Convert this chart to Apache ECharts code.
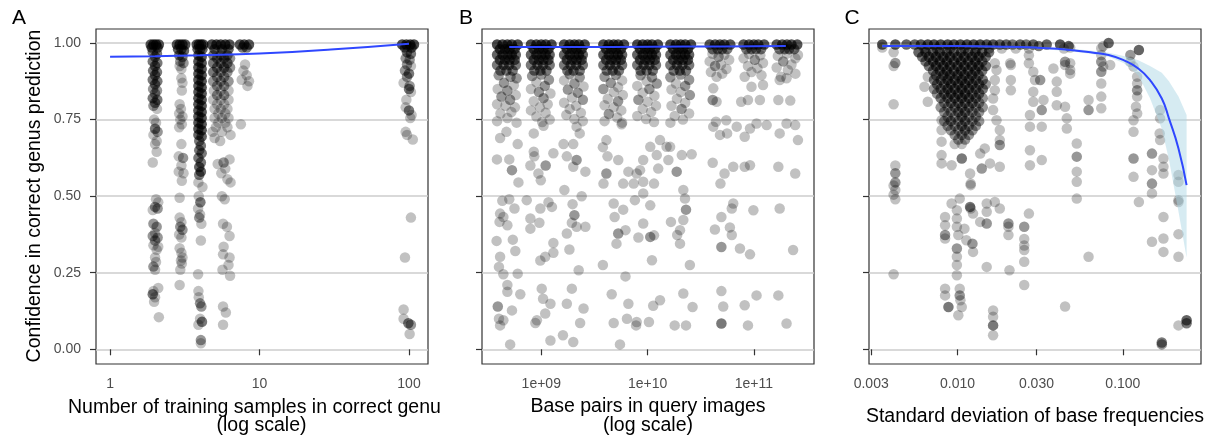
<!DOCTYPE html>
<html>
<head>
<meta charset="utf-8">
<script src="https://cdn.jsdelivr.net/npm/echarts@6/dist/echarts.min.js"></script>
<style>
html, body { margin: 0; padding: 0; background: #fff; }
#chart { width: 1219px; height: 442px; }
</style>
</head>
<body>
<div id="chart"></div>
<script>
// tick values
const yTicks = [0, 0.25, 0.5, 0.75, 1];
const ticksA = [1, 10, 100];
const ticksB = [1e9, 1e10, 1e11];
const ticksC = [0.003, 0.01, 0.03, 0.1];

// points: [x, confidence, n] -- n = how many observations sit on top of each other there
const pointsA = [
  // 2 samples
  [1.87,0.995,5],[1.95,0.995,6],[2.03,0.995,6],[2.12,0.995,5],[1.9,0.985,4],[2.08,0.985,4],
  [1.93,0.97,3],[2.06,0.965,3],[2.0,0.955,3],[1.93,0.94,3],[2.07,0.935,3],[2.0,0.925,3],[1.94,0.91,3],[2.06,0.905,3],
  [2.0,0.895,3],[1.93,0.88,3],[2.07,0.875,3],[2.0,0.865,3],[1.94,0.85,2],[2.06,0.845,2],[2.0,0.835,2],[1.93,0.82,3],
  [2.07,0.815,3],[2.0,0.805,3],[1.95,0.795,2],[2.06,0.785,1],
  [1.97,0.75,1],[2.03,0.74,1],[2.0,0.72,3],[2.08,0.71,2],[1.95,0.7,1],[2.05,0.68,1],[2.0,0.67,1],[2.05,0.645,1],[1.93,0.61,1],
  [2.03,0.49,1],[2.1,0.48,1],[2.0,0.465,2],[1.93,0.455,1],[2.08,0.46,2],[1.95,0.41,2],[2.05,0.4,2],[2.0,0.38,1],
  [1.93,0.37,2],[2.08,0.365,2],[2.0,0.355,2],[1.95,0.34,1],[2.1,0.335,1],[2.05,0.325,1],[2.0,0.3,1],[2.03,0.285,1],
  [1.95,0.27,2],[2.0,0.26,1],[2.1,0.2,1],[1.95,0.19,1],[1.93,0.18,3],[2.0,0.17,1],[1.97,0.155,1],[2.12,0.105,1],
  // 3 samples
  [2.8,0.995,5],[2.92,0.995,6],[3.05,0.995,6],[3.18,0.995,5],[2.85,0.98,4],[3.0,0.98,4],[3.12,0.975,4],[2.9,0.96,3],
  [3.05,0.955,3],[2.95,0.94,2],[3.1,0.935,2],[2.92,0.925,1],[3.0,0.915,1],
  [3.0,0.885,1],[3.05,0.87,1],[3.02,0.845,1],[2.92,0.8,1],[2.98,0.785,1],[2.9,0.77,1],[3.05,0.76,1],[2.95,0.75,1],
  [3.02,0.735,1],[2.9,0.725,1],[3.0,0.67,1],[2.88,0.63,1],[3.08,0.625,2],[3.0,0.6,1],[2.88,0.58,1],[3.1,0.575,1],
  [3.02,0.55,1],[2.92,0.495,1],[2.92,0.43,1],[3.0,0.415,1],[2.95,0.4,2],[3.05,0.39,2],[2.9,0.375,1],[3.0,0.365,1],
  [2.92,0.33,1],[3.0,0.315,1],[3.05,0.3,1],[2.98,0.29,1],[3.02,0.28,1],[2.95,0.26,1],[2.92,0.21,1],
  // 4 samples
  [3.8,0.995,5],[3.93,0.995,6],[4.07,0.995,6],[4.2,0.995,5],[3.85,0.98,4],[4.0,0.98,4],[4.15,0.98,4],
  [3.9,0.96,5],[4.1,0.955,5],[3.9,0.94,5],[4.1,0.935,5],[3.9,0.92,5],[4.1,0.915,5],[3.9,0.9,5],[4.1,0.895,5],
  [3.9,0.88,5],[4.1,0.875,5],[3.9,0.86,5],[4.1,0.855,5],[3.9,0.84,5],[4.1,0.835,5],[3.9,0.82,5],[4.1,0.815,5],
  [3.9,0.8,5],[4.1,0.795,5],[3.9,0.78,5],[4.1,0.775,5],[3.9,0.76,5],[4.1,0.755,5],[3.9,0.74,5],[4.1,0.735,5],
  [3.9,0.72,5],[4.1,0.715,5],[3.9,0.7,4],[4.1,0.695,4],[3.95,0.68,3],[4.05,0.665,3],[3.95,0.65,3],[4.1,0.64,3],
  [3.9,0.625,3],[4.05,0.61,3],[3.95,0.595,4],[4.05,0.58,4],[3.95,0.57,3],
  [3.9,0.545,1],[4.15,0.53,1],[3.92,0.5,1],[4.02,0.48,3],[3.88,0.46,1],[4.0,0.44,1],[3.95,0.43,2],[4.08,0.41,1],
  [4.05,0.355,1],[3.88,0.245,1],[3.9,0.19,1],[3.92,0.17,1],[4.0,0.15,2],[4.08,0.14,2],[4.0,0.1,1],[4.12,0.09,3],
  [3.9,0.08,1],[4.05,0.03,2],[4.05,0.02,1],
  // 5-6 samples
  [4.8,0.995,6],[5.15,0.995,6],[5.5,0.995,6],[5.9,0.995,6],[6.3,0.995,5],[5.0,0.98,4],[5.6,0.98,4],[6.2,0.98,4],
  [4.9,0.96,3],[5.5,0.96,3],[6.1,0.96,3],[5.2,0.95,3],[5.8,0.95,3],[6.35,0.95,2],[4.9,0.935,3],[5.5,0.935,3],[6.1,0.935,3],
  [5.2,0.92,3],[5.8,0.92,3],[6.35,0.92,2],[4.9,0.905,3],[5.5,0.905,2],[6.1,0.905,2],[5.2,0.89,2],[5.8,0.89,2],
  [4.9,0.875,2],[5.5,0.875,2],[6.2,0.875,2],[5.2,0.86,2],[5.8,0.86,2],[4.95,0.845,1],[5.5,0.845,1],[6.2,0.845,1],
  [5.2,0.83,2],[5.8,0.83,2],[4.9,0.815,1],[5.5,0.815,1],[6.2,0.815,1],[5.2,0.8,1],[5.8,0.8,1],[5.0,0.785,1],
  [5.5,0.785,1],[6.1,0.785,1],[5.3,0.77,1],[5.9,0.77,1],[5.0,0.755,1],[5.6,0.755,1],[6.2,0.755,1],[5.3,0.74,1],
  [5.9,0.74,1],[5.1,0.725,1],[6.1,0.725,1],[4.85,0.71,1],[5.6,0.71,1],[6.4,0.7,1],[5.0,0.69,1],[5.45,0.68,1],
  [6.3,0.62,1],[5.75,0.61,2],[5.25,0.605,1],[5.9,0.59,1],[5.55,0.575,1],[6.1,0.555,1],[6.4,0.545,1],[5.6,0.5,1],
  [5.85,0.49,1],[5.7,0.41,1],[6.05,0.4,1],[6.3,0.37,1],[5.75,0.335,1],[5.7,0.31,1],[6.3,0.3,1],[6.2,0.275,1],
  [5.65,0.26,1],[6.35,0.24,1],[5.7,0.14,1],[5.95,0.12,1],[5.7,0.08,1],
  // 8 samples
  [7.4,0.995,5],[7.9,0.995,5],[8.5,0.995,5],[7.7,0.985,3],[8.2,0.985,3],[8.0,0.93,1],[7.8,0.91,1],[8.2,0.895,1],
  [7.6,0.88,1],[8.5,0.875,1],[8.3,0.86,1],[7.5,0.735,1],
  // 100 samples
  [90,0.995,6],[96,0.995,6],[102,0.995,6],[108,0.995,6],[94,0.985,4],[104,0.985,4],[97,0.97,3],[103,0.965,3],
  [95,0.95,2],[101,0.945,2],[97,0.93,2],[103,0.925,1],[94,0.91,2],[100,0.9,3],[97,0.89,2],[92,0.87,1],[101,0.86,2],
  [100,0.85,3],[103,0.84,1],[96,0.815,1],[95,0.79,1],[100,0.78,3],[104,0.765,1],[102,0.755,1],[95,0.71,1],[97,0.7,1],
  [106,0.685,1],[103,0.43,1],[94,0.3,1],[92,0.13,1],[92,0.1,1],[99,0.085,3],[103,0.08,2],[101,0.05,1]
];

const pointsB = [
  // ~5e8
  [3.84e8,0.995,6],[4.32e8,0.995,6],[4.8e8,0.995,6],[5.28e8,0.995,6],[6.0e8,0.995,6],
  [4.08e8,0.98,5],[4.56e8,0.98,5],[5.04e8,0.98,5],[5.62e8,0.98,5],
  [3.84e8,0.962,4],[4.32e8,0.962,4],[4.8e8,0.962,4],[5.28e8,0.962,4],[5.76e8,0.962,4],
  [4.08e8,0.945,4],[4.56e8,0.945,4],[5.04e8,0.945,4],[5.62e8,0.945,4],
  [3.84e8,0.928,3],[4.42e8,0.928,3],[4.99e8,0.928,3],[5.76e8,0.928,3],[4.13e8,0.91,3],[4.7e8,0.91,3],[5.38e8,0.91,3],
  [3.98e8,0.895,2],[5.14e8,0.89,2],[5.86e8,0.885,2],[4.46e8,0.87,2],[5.52e8,0.862,1],[3.89e8,0.85,1],[4.8e8,0.845,2],
  [5.76e8,0.83,1],[4.22e8,0.825,2],[5.09e8,0.815,2],[3.84e8,0.8,1],[4.61e8,0.795,1],[5.66e8,0.79,1],[5.23e8,0.775,1],
  [4.13e8,0.77,1],[4.8e8,0.755,1],[3.84e8,0.745,1],[5.86e8,0.74,1],
  [4.1e8,0.69,1],[4.7e8,0.71,1],[6.0e8,0.67,1],[3.83e8,0.62,1],[5.0e8,0.62,1],[5.3e8,0.585,2],[6.1e8,0.545,1],
  [4.3e8,0.485,1],[5.0e8,0.49,1],[5.6e8,0.46,1],[4.1e8,0.443,1],[4.4e8,0.432,1],[4.05e8,0.416,1],[4.8e8,0.405,1],
  [3.8e8,0.354,1],[5.4e8,0.358,1],[5.7e8,0.321,1],[4.1e8,0.302,1],[4.0e8,0.269,1],[4.4e8,0.245,1],[6.0e8,0.247,1],
  [4.8e8,0.21,1],[4.8e8,0.188,1],[6.35e8,0.18,1],[3.9e8,0.14,2],[5.3e8,0.127,1],[4.0e8,0.1,1],[4.4e8,0.095,1],
  [4.1e8,0.078,1],[5.1e8,0.016,1],
  // ~1e9
  [8.0e8,0.995,6],[9.0e8,0.995,6],[1.0e9,0.995,6],[1.1e9,0.995,6],[1.25e9,0.995,6],
  [8.5e8,0.98,5],[9.5e8,0.98,5],[1.05e9,0.98,5],[1.17e9,0.98,5],
  [8.0e8,0.962,4],[9.0e8,0.962,4],[1.0e9,0.962,4],[1.1e9,0.962,4],[1.2e9,0.962,4],
  [8.5e8,0.945,4],[9.5e8,0.945,4],[1.05e9,0.945,4],[1.17e9,0.945,4],
  [8.0e8,0.928,3],[9.2e8,0.928,3],[1.04e9,0.928,3],[1.2e9,0.928,3],[8.6e8,0.91,3],[9.8e8,0.91,3],[1.12e9,0.91,3],
  [1.0e9,0.897,2],[8.2e8,0.892,2],[1.18e9,0.88,2],[9.0e8,0.872,1],[1.08e9,0.86,2],[8.0e8,0.85,1],[9.5e8,0.84,2],
  [1.22e9,0.835,1],[1.05e9,0.82,2],[8.5e8,0.81,1],[1.15e9,0.8,1],[9.7e8,0.79,1],[8.0e8,0.78,1],[1.1e9,0.772,1],
  [9.0e8,0.76,1],[1.2e9,0.75,1],[1.02e9,0.742,1],
  [8.5e8,0.705,1],[1.05e9,0.73,1],[8.5e8,0.645,1],[8.6e8,0.63,1],[7.9e8,0.6,1],[1.1e9,0.6,2],[1.3e9,0.64,1],
  [9.4e8,0.574,1],[9.9e8,0.552,1],[7.3e8,0.487,1],[9.8e8,0.46,1],[1.17e9,0.48,1],[1.26e9,0.465,1],[7.9e8,0.427,1],
  [9.6e8,0.413,1],[7.9e8,0.394,1],[1.3e9,0.347,1],[1.3e9,0.315,1],[1.09e9,0.302,1],[9.8e8,0.29,1],[1.01e9,0.198,1],
  [1.04e9,0.165,1],[1.22e9,0.149,1],[1.09e9,0.117,1],[9.1e8,0.095,1],[8.8e8,0.086,1],[1.22e9,0.029,1],
  // ~2e9
  [1.64e9,0.995,6],[1.85e9,0.995,6],[2.05e9,0.995,6],[2.26e9,0.995,6],[2.56e9,0.995,6],
  [1.74e9,0.98,5],[1.95e9,0.98,5],[2.15e9,0.98,5],[2.4e9,0.98,5],
  [1.64e9,0.962,4],[1.85e9,0.962,4],[2.05e9,0.962,4],[2.26e9,0.962,4],[2.46e9,0.962,4],
  [1.74e9,0.945,4],[1.95e9,0.945,4],[2.15e9,0.945,4],[2.4e9,0.945,4],
  [1.64e9,0.928,3],[1.89e9,0.928,3],[2.13e9,0.928,3],[2.46e9,0.928,3],[1.76e9,0.91,3],[2.01e9,0.91,3],[2.3e9,0.91,3],
  [1.85e9,0.898,2],[2.3e9,0.888,2],[1.64e9,0.878,1],[2.05e9,0.868,2],[2.5e9,0.858,1],[1.78e9,0.848,2],[2.21e9,0.838,2],
  [1.95e9,0.822,1],[2.46e9,0.815,2],[1.64e9,0.805,1],[2.13e9,0.795,1],[1.85e9,0.785,1],[2.36e9,0.772,1],[1.72e9,0.765,1],
  [2.05e9,0.752,1],[2.46e9,0.745,1],
  [2.3e9,0.705,1],[2.15e9,0.727,1],[1.62e9,0.67,1],[2.0e9,0.67,1],[1.74e9,0.63,1],[2.15e9,0.618,2],[2.0e9,0.596,1],
  [2.6e9,0.58,1],[1.65e9,0.52,1],[2.4e9,0.5,1],[1.97e9,0.474,1],[2.05e9,0.438,2],[1.94e9,0.413,1],[2.15e9,0.4,1],
  [2.6e9,0.4,1],[1.74e9,0.378,1],[1.84e9,0.326,1],[2.25e9,0.258,1],[1.94e9,0.198,1],[1.74e9,0.149,1],[2.5e9,0.133,1],
  [2.32e9,0.086,1],[1.6e9,0.046,1],[2.0e9,0.024,1],
  // ~5e9
  [3.84e9,0.995,6],[4.32e9,0.995,6],[4.8e9,0.995,6],[5.28e9,0.995,6],[6.0e9,0.995,6],
  [4.08e9,0.98,5],[4.56e9,0.98,5],[5.04e9,0.98,5],[5.62e9,0.98,5],
  [3.84e9,0.962,4],[4.32e9,0.962,4],[4.8e9,0.962,4],[5.28e9,0.962,4],[5.76e9,0.962,4],
  [4.08e9,0.945,4],[4.56e9,0.945,4],[5.04e9,0.945,4],[5.62e9,0.945,4],
  [3.84e9,0.928,3],[4.42e9,0.928,3],[4.99e9,0.928,3],[5.76e9,0.928,3],[4.13e9,0.91,3],[4.7e9,0.91,3],[5.38e9,0.91,3],
  [5.04e9,0.896,2],[3.94e9,0.89,2],[5.76e9,0.878,1],[4.51e9,0.87,2],[5.28e9,0.856,1],[3.84e9,0.85,2],[4.8e9,0.84,1],
  [5.86e9,0.83,1],[4.22e9,0.818,1],[5.28e9,0.81,2],[3.94e9,0.797,1],[4.8e9,0.79,1],[5.66e9,0.78,1],[4.32e9,0.768,2],
  [5.18e9,0.757,1],[3.94e9,0.745,1],[5.76e9,0.74,1],
  [3.8e9,0.66,1],[5.7e9,0.735,1],[4.1e9,0.683,1],[4.2e9,0.63,1],[5.3e9,0.618,1],[4.1e9,0.574,2],[3.85e9,0.541,1],
  [6.6e9,0.58,1],[5.9e9,0.541,1],[7.9e9,0.574,1],[4.8e9,0.476,1],[5.9e9,0.456,1],[4.9e9,0.432,1],[6.2e9,0.389,1],
  [5.3e9,0.378,2],[5.1e9,0.345,1],[3.8e9,0.275,1],[6.2e9,0.238,1],[4.6e9,0.18,1],[6.6e9,0.149,1],[6.4e9,0.1,1],
  [4.8e9,0.086,1],[7.9e9,0.089,1],[5.5e9,0.016,1],
  // ~1e10
  [8.0e9,0.995,6],[9.0e9,0.995,6],[1.0e10,0.995,6],[1.1e10,0.995,6],[1.25e10,0.995,6],
  [8.5e9,0.98,5],[9.5e9,0.98,5],[1.05e10,0.98,5],[1.17e10,0.98,5],
  [8.0e9,0.962,4],[9.0e9,0.962,4],[1.0e10,0.962,4],[1.1e10,0.962,4],[1.2e10,0.962,4],
  [8.5e9,0.945,4],[9.5e9,0.945,4],[1.05e10,0.945,4],[1.17e10,0.945,4],
  [8.0e9,0.928,3],[9.2e9,0.928,3],[1.04e10,0.928,3],[1.2e10,0.928,3],[8.6e9,0.91,3],[9.8e9,0.91,3],[1.12e10,0.91,3],
  [8.6e9,0.895,2],[1.1e10,0.888,2],[9.8e9,0.876,1],[1.22e10,0.868,2],[8.0e9,0.86,1],[1.04e10,0.85,2],[9.0e9,0.838,1],
  [1.16e10,0.828,1],[8.2e9,0.815,2],[1.0e10,0.808,1],[1.2e10,0.795,1],[9.0e9,0.785,1],[1.08e10,0.775,1],[8.0e9,0.762,1],
  [9.7e9,0.752,1],[1.15e10,0.742,1],
  [1.31e10,0.683,1],[1.06e10,0.661,1],[1.51e10,0.661,1],[1.22e10,0.634,1],[9.1e9,0.618,1],
  [1.26e10,0.59,1],[8.5e9,0.585,1],[7.4e9,0.541,1],[9.1e9,0.547,1],[1.15e10,0.541,1],[9.1e9,0.509,1],[7.6e9,0.487,1],
  [1.06e10,0.47,1],[9.1e9,0.411,1],[8.2e9,0.365,1],[1.06e10,0.367,2],[1.15e10,0.372,1],[1.1e10,0.291,1],
  [1.31e10,0.16,1],[1.13e10,0.142,1],[1.03e10,0.089,1],[7.8e9,0.078,1],
  // ~2e10
  [1.64e10,0.995,6],[1.85e10,0.995,6],[2.05e10,0.995,6],[2.26e10,0.995,6],[2.56e10,0.995,6],
  [1.74e10,0.98,5],[1.95e10,0.98,5],[2.15e10,0.98,5],[2.4e10,0.98,5],
  [1.64e10,0.962,4],[1.85e10,0.962,4],[2.05e10,0.962,4],[2.26e10,0.962,4],[2.46e10,0.962,4],
  [1.74e10,0.945,4],[1.95e10,0.945,4],[2.15e10,0.945,4],[2.4e10,0.945,4],
  [1.64e10,0.928,3],[1.89e10,0.928,3],[2.13e10,0.928,3],[2.46e10,0.928,3],[1.76e10,0.91,3],[2.01e10,0.91,3],[2.3e10,0.91,3],
  [2.05e10,0.897,2],[1.64e10,0.888,2],[2.46e10,0.88,2],[1.85e10,0.868,1],[2.26e10,0.86,2],[1.68e10,0.848,1],[2.05e10,0.84,1],
  [2.5e10,0.83,2],[1.89e10,0.818,1],[2.26e10,0.805,1],[1.68e10,0.795,1],[2.09e10,0.785,2],[2.46e10,0.77,1],[1.8e10,0.762,1],
  [2.15e10,0.75,1],[1.64e10,0.74,1],
  [1.63e10,0.661,1],[1.57e10,0.618,1],[1.88e10,0.58,2],[2.1e10,0.634,1],[2.6e10,0.637,1],[2.17e10,0.52,1],[2.25e10,0.492,1],
  [2.3e10,0.456,2],[1.66e10,0.416,1],[2.17e10,0.422,1],[2.02e10,0.389,1],[1.9e10,0.373,1],[2.02e10,0.345,1],[2.5e10,0.275,1],
  [2.17e10,0.182,1],[2.65e10,0.138,1],[1.8e10,0.078,1],[2.3e10,0.078,1],
  // ~5e10
  [3.84e10,0.995,5],[4.32e10,0.995,5],[4.8e10,0.995,5],[5.28e10,0.995,5],[6.0e10,0.995,5],
  [4.08e10,0.98,3],[4.56e10,0.98,3],[5.04e10,0.98,3],[5.62e10,0.98,3],
  [4.08e10,0.965,1],[5.28e10,0.962,1],[4.66e10,0.955,2],[5.86e10,0.945,1],[3.84e10,0.94,1],[4.9e10,0.93,1],[4.32e10,0.925,2],
  [5.52e10,0.915,1],[3.94e10,0.905,1],[5.04e10,0.9,1],[4.46e10,0.89,1],
  [4.15e10,0.852,1],[4.1e10,0.814,2],[4.46e10,0.808,1],[5.5e10,0.748,1],[4.4e10,0.743,1],[4.15e10,0.727,1],[6.9e10,0.727,1],
  [5.6e10,0.705,1],[4.8e10,0.7,1],[4.1e10,0.609,1],[6.4e10,0.596,1],[5.3e10,0.574,1],[4.85e10,0.541,1],[6.4e10,0.476,1],
  [6.2e10,0.46,1],[4.95e10,0.432,1],[4.3e10,0.391,1],[5.95e10,0.398,1],[6.2e10,0.373,1],[4.95e10,0.334,2],[7.4e10,0.329,1],
  [9.2e10,0.31,1],[4.95e10,0.19,1],[5.15e10,0.14,1],[4.95e10,0.084,3],
  // ~1e11
  [8.0e10,0.995,5],[9.0e10,0.995,5],[1.0e11,0.995,5],[1.1e11,0.995,5],[1.25e11,0.995,5],
  [8.5e10,0.98,3],[9.5e10,0.98,3],[1.05e11,0.98,3],[1.17e11,0.98,3],
  [9.0e10,0.965,1],[1.15e11,0.96,1],[8.0e10,0.95,1],[1.02e11,0.945,2],[1.22e11,0.935,1],[8.8e10,0.925,1],[1.08e11,0.918,1],
  [9.5e10,0.905,1],[1.18e11,0.895,1],[8.2e10,0.89,1],
  [9.5e10,0.857,1],[1.22e11,0.863,1],[7.6e10,0.808,1],[8.8e10,0.814,1],[1.14e11,0.814,1],[1.06e11,0.737,1],[1.32e11,0.732,1],
  [9.2e10,0.721,1],[8.2e10,0.694,1],[8.2e10,0.596,1],[9.2e10,0.601,1],[9.9e10,0.454,1],[1.06e11,0.176,1],[8.2e10,0.144,1],
  [8.8e10,0.078,1],
  // ~2e11
  [1.64e11,0.995,5],[1.85e11,0.995,5],[2.05e11,0.995,5],[2.26e11,0.995,5],[2.56e11,0.995,5],
  [1.74e11,0.98,3],[1.95e11,0.98,3],[2.15e11,0.98,3],[2.4e11,0.98,3],
  [2.05e11,0.966,1],[1.68e11,0.958,1],[2.46e11,0.95,1],[1.89e11,0.94,2],[2.26e11,0.93,1],[1.64e11,0.92,1],[2.09e11,0.912,1],
  [2.46e11,0.9,1],[1.8e11,0.89,1],
  [2.6e11,0.961,1],[1.75e11,0.879,1],[2.03e11,0.885,1],[1.7e11,0.814,1],[2.2e11,0.812,1],[2.03e11,0.737,1],
  [2.45e11,0.732,1],[1.75e11,0.705,1],[2.6e11,0.683,1],[1.7e11,0.596,1],[2.45e11,0.574,1],[1.75e11,0.46,1],[2.34e11,0.324,1],
  [1.7e11,0.176,1],[2.03e11,0.084,1]
];

const pointsC = [
  // top row
  [0.0035,0.995,5],[0.0042,0.995,5],[0.0049,0.995,4],[0.0055,0.995,4],[0.006,0.995,5],[0.0066,0.995,6],[0.0072,0.995,6],
  [0.0079,0.995,6],[0.0087,0.995,6],[0.0095,0.995,6],[0.0104,0.995,6],[0.0114,0.995,6],[0.0125,0.995,6],[0.0137,0.995,6],
  [0.015,0.995,5],[0.0164,0.995,5],[0.018,0.995,4],[0.0197,0.995,4],[0.0215,0.995,3],[0.0239,0.995,4],[0.026,0.995,3],
  [0.0287,0.995,4],[0.031,0.99,3],[0.0346,0.995,4],[0.0417,0.995,5],[0.047,0.99,4],
  [0.0063,0.982,2],[0.0075,0.982,2],[0.009,0.982,2],[0.011,0.982,2],[0.013,0.982,2],[0.0155,0.982,2],[0.0185,0.982,1],
  [0.0225,0.982,1],[0.027,0.982,1],[0.044,0.982,1],[0.0035,0.985,1],
  [0.076,0.99,1],[0.082,1.0,4],[0.111,0.961,2],[0.125,0.977,4],
  // left column
  [0.0041,0.97,1],[0.0042,0.935,2],[0.0041,0.925,1],[0.0041,0.8,1],[0.0042,0.6,1],[0.0042,0.575,2],[0.0042,0.545,2],
  [0.0041,0.535,1],[0.0042,0.52,1],[0.0041,0.505,1],[0.0042,0.49,1],[0.0041,0.245,1],
  // dense block
  [0.0058,0.97,4],[0.0064,0.97,4],[0.0071,0.97,4],[0.0078,0.97,4],[0.0086,0.97,4],[0.0095,0.97,4],[0.0105,0.97,4],
  [0.0116,0.97,4],[0.0128,0.97,4],[0.0141,0.97,4],[0.0155,0.97,3],
  [0.0061,0.955,3],[0.0067,0.955,4],[0.0074,0.955,4],[0.0082,0.955,4],[0.009,0.955,4],[0.01,0.955,4],[0.011,0.955,4],
  [0.0122,0.955,4],[0.0134,0.955,4],[0.0148,0.955,3],
  [0.0064,0.94,3],[0.0071,0.94,4],[0.0078,0.94,4],[0.0086,0.94,4],[0.0095,0.94,4],[0.0105,0.94,4],[0.0116,0.94,4],
  [0.0128,0.94,4],[0.0141,0.94,3],
  [0.0067,0.925,3],[0.0074,0.925,4],[0.0082,0.925,4],[0.009,0.925,4],[0.01,0.925,4],[0.011,0.925,4],[0.0122,0.925,4],
  [0.0134,0.925,4],[0.0148,0.925,3],
  [0.0071,0.91,3],[0.0078,0.91,4],[0.0086,0.91,4],[0.0095,0.91,4],[0.0105,0.91,4],[0.0116,0.91,4],[0.0128,0.91,4],[0.0141,0.91,3],
  [0.0074,0.895,3],[0.0082,0.895,4],[0.009,0.895,4],[0.01,0.895,4],[0.011,0.895,4],[0.0122,0.895,4],[0.0134,0.895,3],
  [0.0072,0.88,3],[0.0079,0.88,3],[0.0087,0.88,4],[0.0096,0.88,4],[0.0106,0.88,4],[0.0117,0.88,4],[0.0129,0.88,3],[0.0142,0.88,3],
  [0.0075,0.865,3],[0.0083,0.865,3],[0.0091,0.865,4],[0.0101,0.865,4],[0.0111,0.865,4],[0.0123,0.865,4],[0.0135,0.865,3],[0.0148,0.865,2],
  [0.0072,0.85,2],[0.0079,0.85,3],[0.0087,0.85,4],[0.0096,0.85,4],[0.0106,0.85,4],[0.0117,0.85,4],[0.0129,0.85,3],[0.0142,0.85,3],
  [0.0075,0.835,2],[0.0083,0.835,3],[0.0091,0.835,4],[0.0101,0.835,4],[0.0111,0.835,4],[0.0123,0.835,3],[0.0135,0.835,3],
  [0.0079,0.82,3],[0.0087,0.82,3],[0.0096,0.82,4],[0.0106,0.82,4],[0.0117,0.82,4],[0.0129,0.82,3],[0.0142,0.82,2],
  [0.0083,0.805,2],[0.0091,0.805,3],[0.0101,0.805,3],[0.0111,0.805,3],[0.0123,0.805,3],[0.0135,0.805,2],
  [0.0079,0.79,2],[0.0087,0.79,2],[0.0096,0.79,3],[0.0106,0.79,3],[0.0117,0.79,3],[0.0129,0.79,2],[0.0142,0.79,2],
  [0.0083,0.775,2],[0.0091,0.775,2],[0.0101,0.775,3],[0.0111,0.775,3],[0.0123,0.775,2],[0.0135,0.775,2],
  [0.0087,0.76,2],[0.0096,0.76,2],[0.0106,0.76,3],[0.0117,0.76,2],[0.0129,0.76,2],
  [0.0083,0.745,2],[0.0091,0.745,3],[0.0101,0.745,2],[0.0111,0.745,3],[0.0123,0.745,2],[0.0135,0.745,2],
  [0.0087,0.73,2],[0.0096,0.73,2],[0.0106,0.73,3],[0.0117,0.73,2],[0.0129,0.73,2],
  [0.0091,0.715,2],[0.0101,0.715,2],[0.0111,0.715,3],[0.0123,0.715,2],[0.0096,0.7,2],[0.0106,0.7,2],[0.0117,0.7,2],
  [0.0101,0.685,2],[0.0111,0.685,2],[0.0096,0.67,1],[0.0106,0.67,1],
  // around the block
  [0.0066,0.89,1],[0.0063,0.857,1],[0.0066,0.808,1],[0.0168,0.934,1],[0.0172,0.912,1],[0.0168,0.879,1],
  [0.0168,0.846,1],[0.021,0.928,1],[0.021,0.879,1],[0.021,0.846,1],[0.0208,0.934,1],[0.0287,0.906,1],[0.0294,0.879,1],
  [0.0316,0.879,2],[0.0287,0.841,1],[0.0287,0.808,1],[0.0331,0.814,1],[0.0323,0.781,2],[0.0274,0.765,1],[0.0274,0.727,1],
  [0.0323,0.727,1],[0.038,0.917,1],[0.0398,0.874,1],[0.0398,0.841,1],[0.0398,0.797,1],[0.0447,0.792,1],[0.0458,0.754,1],
  [0.0458,0.721,1],[0.048,0.934,1],[0.048,0.912,1],[0.0447,0.939,2],[0.0447,0.928,1],[0.048,0.985,1],[0.048,0.9,1],
  [0.027,0.96,1],[0.027,0.934,1],
  [0.0164,0.819,1],[0.0164,0.781,1],[0.0172,0.748,1],[0.018,0.716,1],[0.018,0.683,1],[0.018,0.667,2],
  [0.008,0.748,1],[0.008,0.716,1],[0.008,0.678,1],[0.008,0.634,1],[0.008,0.607,1],[0.0092,0.601,1],[0.0106,0.623,3],
  [0.0119,0.574,1],[0.012,0.541,1],[0.0137,0.639,1],[0.0146,0.656,1],[0.014,0.59,2],[0.0157,0.607,1],[0.018,0.596,1],
  [0.0274,0.65,1],[0.0323,0.618,1],[0.0274,0.601,1],
  // lower middle
  [0.0092,0.476,1],[0.0103,0.492,1],[0.012,0.536,1],[0.0119,0.465,3],[0.012,0.46,1],[0.0124,0.443,1],[0.015,0.476,1],
  [0.015,0.449,1],[0.015,0.411,2],[0.0168,0.481,1],[0.018,0.46,1],[0.0137,0.416,1],[0.0084,0.432,1],[0.0084,0.405,1],
  [0.0084,0.373,2],[0.0084,0.362,1],[0.0099,0.454,1],[0.0099,0.427,1],[0.0099,0.4,1],[0.0101,0.373,1],[0.0099,0.329,2],
  [0.0099,0.302,1],[0.0099,0.275,1],[0.0099,0.242,1],[0.011,0.394,1],[0.0113,0.356,1],[0.0123,0.345,2],[0.0124,0.318,1],
  [0.0103,0.198,1],[0.0103,0.176,2],[0.0104,0.16,1],[0.0106,0.138,1],[0.0101,0.111,1],[0.0084,0.198,1],[0.0084,0.176,1],
  [0.0088,0.138,3],[0.015,0.269,1],[0.0164,0.127,1],[0.0164,0.106,1],[0.0164,0.078,3],[0.0164,0.046,1],
  [0.0203,0.411,2],[0.0203,0.4,1],[0.0203,0.373,1],[0.0206,0.258,1],[0.0253,0.4,2],[0.0253,0.36,1],[0.0253,0.339,1],
  [0.0253,0.324,1],[0.0253,0.286,1],[0.0253,0.21,1],[0.027,0.443,1],[0.0447,0.14,1],
  // right side
  [0.0526,0.672,1],[0.0526,0.629,2],[0.0526,0.58,1],[0.0526,0.547,1],[0.0526,0.492,1],
  [0.074,0.983,1],[0.074,0.961,1],[0.074,0.939,2],[0.076,0.923,1],[0.074,0.906,2],[0.0838,0.928,1],[0.074,0.868,1],
  [0.074,0.825,1],[0.074,0.787,1],[0.062,0.814,1],[0.062,0.781,2],[0.062,0.302,1],
  [0.111,0.939,1],[0.116,0.923,1],[0.122,0.89,1],[0.122,0.868,1],[0.122,0.846,2],[0.122,0.825,1],[0.12,0.792,1],
  [0.122,0.77,1],[0.116,0.748,1],[0.116,0.71,1],[0.116,0.623,2],[0.116,0.563,1],[0.125,0.481,1],
  [0.168,0.781,1],[0.168,0.754,1],[0.167,0.705,1],[0.168,0.683,1],[0.15,0.639,2],[0.15,0.585,1],[0.15,0.541,2],
  [0.15,0.509,1],[0.15,0.351,1],[0.176,0.623,1],[0.176,0.596,1],[0.176,0.574,1],[0.176,0.432,1],[0.176,0.362,1],
  [0.176,0.318,1],[0.217,0.569,1],[0.217,0.547,1],[0.217,0.487,1],[0.217,0.481,1],[0.217,0.376,1],[0.217,0.302,1],
  [0.172,0.022,3],[0.172,0.016,2],[0.243,0.095,4],[0.243,0.085,3],[0.217,0.078,1]
];

// fitted trends and confidence band
const lineA = [[1,0.955],[2,0.957],[4,0.96],[10,0.966],[30,0.979],[100,0.998]];
const lineB = [[5e8,0.987],[2e9,0.987],[1e10,0.988],[5e10,0.989],[2e11,0.99]];
const lineC = [[0.0035,0.99],[0.005,0.99],[0.01,0.99],[0.02,0.988],[0.03,0.985],[0.04,0.981],[0.0526,0.975],
  [0.065,0.969],[0.082,0.961],[0.101,0.944],[0.124,0.917],[0.146,0.879],[0.172,0.819],[0.19,0.754],[0.217,0.656],[0.243,0.536]];
const bandX = [0.0035,0.01,0.03,0.0526,0.065,0.082,0.101,0.124,0.146,0.172,0.19,0.217,0.243];
const bandLow = [0.985,0.987,0.982,0.971,0.964,0.955,0.935,0.895,0.82,0.72,0.62,0.45,0.30];
const bandHigh = [0.995,0.993,0.988,0.98,0.975,0.968,0.958,0.944,0.925,0.903,0.875,0.825,0.765];

var dom = document.getElementById('chart');
var chart = echarts.init(dom, null, { renderer: 'canvas' });

const FONT = 'Liberation Sans';

let dotColor = (p) => 'rgba(0,0,0,' + (1 - Math.pow(0.7, p.data[2] || 1)).toFixed(3) + ')';

let yAxisFor = (i, labels) => ({
    type: 'value', gridIndex: i, min: -0.048, max: 1.0458,
    axisLine: { show: false },
    axisTick: { show: true, length: 6, lineStyle: { color: '#333', width: 1.2 }, customValues: yTicks },
    axisLabel: {
        show: labels, customValues: yTicks, margin: 15, color: '#4d4d4d',
        fontSize: 14, fontFamily: FONT, formatter: (v) => v.toFixed(2)
    },
    splitLine: { show: true, lineStyle: { color: '#cccccc', width: 1.5 } }
});

let xAxisFor = (i, min, max, ticks, fmt) => ({
    type: 'log', logBase: 10, gridIndex: i, min: min, max: max,
    axisLine: { show: false },
    axisTick: { show: true, length: 6, lineStyle: { color: '#333', width: 1.2 }, customValues: ticks },
    axisLabel: { customValues: ticks, margin: 13, color: '#4d4d4d', fontSize: 14, fontFamily: FONT, formatter: fmt },
    splitLine: { show: false },
    minorTick: { show: false }
});

let sciLabel = (v) => {
    let e = Math.round(Math.log10(v));
    return '1e+' + (e < 10 ? '0' : '') + e;
};

let gridBox = (left) => ({
    left: left, top: 29, width: 332, height: 335,
    show: true, borderColor: '#333', borderWidth: 1.2, backgroundColor: 'transparent'
});

let dots = (i, data) => ({
    type: 'scatter', xAxisIndex: i, yAxisIndex: i, data: data,
    symbolSize: 10.5, itemStyle: { color: dotColor }, silent: true, z: 2
});

let trend = (i, data) => ({
    type: 'line', xAxisIndex: i, yAxisIndex: i, data: data, smooth: true,
    symbol: 'none', lineStyle: { color: '#2f47ff', width: 2 }, silent: true, z: 5
});

let titleText = (x, y, text, align) => ({
    type: 'text', x: x, y: y, silent: true,
    style: { text: text, fill: '#000', fontSize: 19.5, fontFamily: FONT, align: align || 'center', verticalAlign: 'middle' }
});

let letter = (x, y, text) => ({
    type: 'text', x: x, y: y, silent: true,
    style: { text: text, fill: '#000', fontSize: 21, fontFamily: FONT, align: 'center', verticalAlign: 'middle' }
});

var option = {
    animation: false,
    backgroundColor: '#fff',
    grid: [gridBox(96), gridBox(482), gridBox(869)],
    xAxis: [
        xAxisFor(0, 0.805, 134, ticksA, (v) => String(v)),
        xAxisFor(1, 2.77e8, 3.68e11, ticksB, sciLabel),
        xAxisFor(2, 0.00291, 0.297, ticksC, (v) => v.toFixed(3))
    ],
    yAxis: [yAxisFor(0, true), yAxisFor(1, false), yAxisFor(2, false)],
    series: [
        dots(0, pointsA),
        trend(0, lineA),
        dots(1, pointsB),
        trend(1, lineB),
        dots(2, pointsC),
        {
            // confidence band of the smooth, drawn as one polygon through the axis scales
            type: 'custom', xAxisIndex: 2, yAxisIndex: 2, silent: true, z: 3,
            data: bandX.map((x, k) => [x, bandLow[k], bandHigh[k]]),
            encode: { x: 0, y: [1, 2] },
            renderItem: (params, api) => {
                if (params.dataIndex !== 0) return null;
                let upper = bandX.map((x, k) => api.coord([x, bandHigh[k]]));
                let lower = bandX.map((x, k) => api.coord([x, bandLow[k]])).reverse();
                return {
                    type: 'polygon',
                    shape: { points: upper.concat(lower) },
                    style: { fill: 'rgba(173,216,230,0.5)' }
                };
            }
        },
        trend(2, lineC)
    ],
    graphic: [
        letter(19, 18, 'A'),
        letter(466, 18, 'B'),
        letter(852, 18, 'C'),
        {
            type: 'text', x: 35, y: 196, rotation: Math.PI / 2, silent: true,
            style: { text: 'Confidence in correct genus prediction', fill: '#000', fontSize: 19.5, fontFamily: FONT, align: 'center', verticalAlign: 'middle' }
        },
        titleText(68, 407.5, 'Number of training samples in correct genu', 'left'),
        titleText(261.5, 425.5, '(log scale)'),
        titleText(648, 407, 'Base pairs in query images'),
        titleText(648, 425.5, '(log scale)'),
        titleText(1035, 417, 'Standard deviation of base frequencies')
    ]
};

chart.setOption(option);
</script>
</body>
</html>
